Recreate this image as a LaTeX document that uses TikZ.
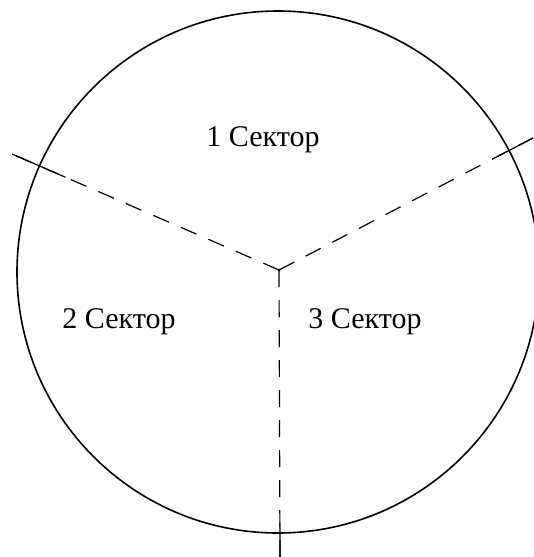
\documentclass[tikz,border=0pt]{standalone}
\usepackage{fontspec}
\setmainfont{Liberation Serif}
\usetikzlibrary{calc}

\tikzset{
	radius line/.style = {line width=1.2pt, dash pattern=on 17pt off 13pt},
	sector label/.style = {font=\fontsize{30}{32}\selectfont, inner sep=0pt}
}

\begin{document}
\begin{tikzpicture}[x=1pt,y=-1pt]
%
	\useasboundingbox (0,0) rectangle (533,557);
	\coordinate (O) at (279,270);
	\coordinate (L) at (12,154);
	\coordinate (R) at (533,138);
	\coordinate (D) at (280,557);
%
	\draw[line width=1.6pt] (278,272) circle (261pt);
	\draw[radius line] (O) -- (L);
	\draw[radius line] (O) -- (R);
	\draw[radius line] (O) -- (D);
	\draw[line width=1.2pt] ($(O)!0.8!(L)$) -- (L);
	\draw[line width=1.2pt] ($(O)!0.86!(R)$) -- (R);
	\draw[line width=1.2pt] ($(O)!0.88!(D)$) -- (D);
	\fill (O) circle (1.6pt);
%
	\node[sector label] (s1) at (263,140) {1 Сектор};
	\node[sector label] (s2) at (119,322) {2 Сектор};
	\node[sector label] (s3) at (365,322) {3 Сектор};
\end{tikzpicture}
\end{document}
